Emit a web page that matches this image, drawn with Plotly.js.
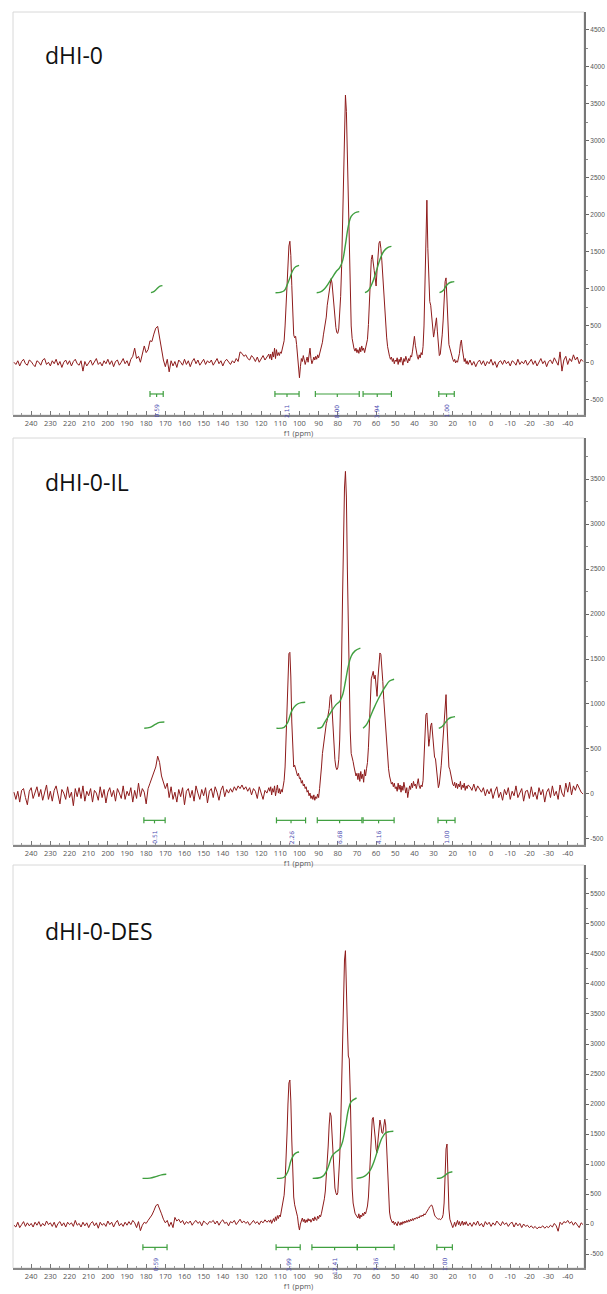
<!DOCTYPE html>
<html><head><meta charset="utf-8">
<script src="https://cdn.plot.ly/plotly-3.0.1.min.js"></script>
<style>html,body{margin:0;padding:0;background:#fff}#chart{width:607px;height:1294px}</style>
</head><body><div id="chart"></div>
<script>
// ---------- DATA ----------
// spectra are stored as segments: first ppm of each segment and its sampling step
const segStart = [249, 186, 115.5, 99.5, 85.5, 69.5, 49.5, 11];
const segStep  = [1, 1, 0.5, 0.5, 0.5, 0.5, 0.5, 1];

const sampleNames = ["dHI-0", "dHI-0-IL", "dHI-0-DES"];

// ---- dHI-0 intensities ----
const dhi0_s1 = [10,-20,30,-40,20,50,-10,-30,40,20, -20,-50,30,10,-30,40,60,-20,10,-40, 30,-10,50,-30,20,-60,10,40,-20,30, -40,20,50,-10,-30,30,-110,20,-40,10, 40,-30,20,60,-20,10,-40,30,-10,50, -20,30,-50,20,40,-30,10,60,-10,30, -40,50,90];
const dhi0_s2 = [200,60,90,10,110,230,140,180,300,290, 390,470,495,350,180,40,-50,50,-120,30, -40,20,-60,40,10,-30,50,-20,30,-50, 20,60,-10,40,-30,10,50,-20,30,0, 40,-30,20,60,-10,30,-40,20,50,10, -20,30,0,60,20,150,130,90,110,60, 40,100,70,20,80,10,60,100,40,90, 120];
const dhi0_s3 = [60,120,40,150,80,200,60,180,100,140, 100,150,130,200,250,300,500,750,1050,1350, 1580,1645,1450,1050,600,380,340,360,250,130, 0,-200];
const dhi0_s4 = [-50,60,20,100,40,-20,30,80,10,150, 200,60,-10,30,80,40,90,50,110,70, 120,150,200,280,380,450,530,620];
const dhi0_s5 = [780,870,950,1050,1140,1080,900,750,600,480, 410,400,460,620,900,1300,1900,2600,3250,3620, 3400,2800,2000,1300,800,500,330,250,190,160, 200,140];
const dhi0_s6 = [180,130,210,150,230,170,200,140,220,250, 320,520,880,1200,1400,1460,1380,1250,1150,1040, 1250,1500,1620,1645,1550,1380,1150,950,720,520, 350,220,130,90,50,80,20,60,-10,40];
const dhi0_s7 = [20,70,-20,50,10,80,30,-30,60,20, 90,40,0,60,30,100,80,160,310,360, 240,120,90,50,110,70,140,110,220,500, 1150,2000,2200,1550,1000,830,780,600,420,350, 430,560,610,420,180,100,120,230,380,580, 850,1100,1150,850,450,250,200,140,90,50, 20,50,0,30,10,60,130,260,310,190, 90,20,60,-10,30,-20];
const dhi0_s8 = [40,-30,20,-50,10,40,-20,30,-40,20, -10,50,-30,20,-60,10,30,-20,40,-10, 20,-40,30,10,-30,50,-20,20,-10,40, -30,10,50,-20,30,-40,20,60,-10,30, -50,20,40,-10,70,20,-30,150,-110,40, 90,-20,60,20,110,40,80,-10,50,20];

// ---- dHI-0-IL intensities ----
const il_s1 = [20,-60,30,-90,40,60,-40,-120,30,70, -50,10,80,-30,50,-70,20,100,-60,30, -80,40,90,-20,-110,50,10,-60,80,-40, 20,-130,60,-30,70,-50,90,-80,30,-20, 60,-90,40,10,-70,80,-40,50,-100,20, 70,-30,40,-80,60,10,-50,90,-60,30, -20,70,-90];
const il_s2 = [40,-50,120,-30,60,20,-110,60,120,180, 260,300,420,350,200,140,60,120,-40,80, -60,20,-90,50,-30,70,-120,30,60,-40, 40,-80,90,10,-60,50,-20,70,-100,30, 60,-40,80,20,-70,40,90,-30,50,10, 60,20,80,40,90,60,100,50,80,30, 70,-10,60,30,-50,80,20,-60,40,10, 70];
const il_s3 = [30,80,-10,60,20,90,-20,40,100,10, 60,0,50,20,80,150,300,600,1000,1400, 1560,1574,1300,800,450,300,320,280,240,200, 230,170];
const il_s4 = [180,120,150,90,110,60,80,20,40,-20, 10,-50,-20,-60,-10,-70,-30,-50,0,-40, 60,150,300,450,550,620,700,780];
const il_s5 = [820,880,950,1080,1104,950,700,500,380,300, 270,290,380,600,950,1500,2200,2900,3400,3585, 3300,2500,1700,1100,700,450,380,360,300,250, 200,230];
const il_s6 = [160,230,140,250,170,220,130,270,200,280, 350,520,800,1100,1280,1320,1363,1280,1320,1200, 1085,1300,1480,1567,1550,1420,1250,1050,900,750, 550,380,280,200,150,110,130,80,120,60];
const il_s7 = [80,30,120,50,100,20,90,40,130,60, 10,70,-40,30,90,50,120,70,140,90, 110,60,150,170,90,60,100,80,150,350, 700,880,900,720,530,620,760,789,620,460, 410,390,300,150,70,110,200,320,480,650, 880,1060,1104,780,420,300,270,200,150,110, 90,130,70,120,60,110,80,140,50,100, 70,120,40,90,60,100];
const il_s8 = [80,40,110,30,90,60,20,70,-20,50, 0,60,-50,30,80,-40,20,-70,50,-10, 70,-60,30,-20,90,-40,10,60,-80,30, 40,-50,80,-30,20,-60,70,-10,50,-90, 20,60,-40,90,-20,30,-60,100,10,-30, 120,20,130,-10,90,40,110,60,20,0];

// ---- dHI-0-DES intensities ----
const des_s1 = [-20,-50,30,-60,-10,40,-40,20,-30,10, -50,30,-20,40,-40,10,-30,50,-10,20, -40,30,-60,10,40,-30,20,-50,30,-10, 20,-40,60,-20,10,-50,30,-30,20,-60, 10,40,-30,20,-70,30,-20,10,-40,50, -10,30,-50,20,60,-30,10,-40,30,-20, 40,-10,60];
const des_s2 = [20,-60,40,-110,-20,30,10,60,100,150, 220,300,333,260,170,80,20,60,-40,30, -60,110,50,80,20,60,-10,40,10,50, -20,30,60,10,40,-30,50,20,-10,40, 30,60,0,50,-20,40,70,10,30,-30, 40,20,60,-10,30,80,20,50,10,40, -20,30,60,10,40,-10,50,20,70,30, 60];
const des_s3 = [30,70,10,60,90,40,120,60,140,90, 150,120,200,260,350,480,700,1000,1500,2000, 2350,2400,2050,1400,800,450,320,260,220,120, -20,-100];
const des_s4 = [0,60,100,40,80,20,70,30,90,50, 80,30,60,100,50,120,80,60,130,90, 150,120,180,250,330,420,550,750];
const des_s5 = [1000,1300,1650,1855,1800,1500,1100,800,600,520, 483,520,750,1100,1600,2300,3100,3900,4400,4555, 4100,3300,2800,2750,2200,1200,600,350,250,180, 150,120];
const des_s6 = [100,170,90,150,120,180,140,200,170,230, 300,450,750,1150,1550,1750,1777,1650,1450,1250, 1190,1400,1650,1733,1650,1520,1511,1650,1744,1650, 1300,800,400,200,100,60,20,50,-10,30];
const des_s7 = [10,-30,40,0,-20,30,-10,40,10,50, 20,60,30,70,40,80,50,90,60,100, 80,110,90,120,100,140,120,150,130,170, 150,180,200,230,260,290,310,317,280,200, 150,120,100,90,80,90,70,80,100,160, 350,800,1250,1333,700,250,80,20,-40,-60, -20,30,-40,20,60,-10,40,-30,10,50, -20,30,-10,40,0,-30];
const des_s8 = [20,-40,30,-20,50,-30,10,-50,40,-10, 30,-40,20,-20,50,0,-30,40,-10,20, -40,10,30,-50,20,-30,10,-60,0,-40, -20,-60,-30,-70,-40,-80,-50,-60,-30,-70, -40,-60,-20,-50,10,-30,-120,30,-10,40, 20,60,10,40,-20,30,-10,-60,20,-10];

// ---- integral curves (ppm, height) ----
const dhi0_intPpm = [[177.5,176,174.5,173,171.5],[112.5,110,108,106.5,105,103.5,102,100.2],[91,89,87,85,83,81,79,77.5,76,74.5,73,71,68.8],[65.8,64,62,60,58,56,54,52],[26.9,25,23.5,22,20.5,19.2]];
const dhi0_intVal = [[950,965,1000,1035,1045],[950,955,975,1050,1150,1250,1300,1320],[950,960,1000,1070,1150,1230,1290,1380,1600,1850,1980,2030,2045],[950,980,1080,1230,1400,1510,1560,1575],[950,980,1040,1080,1095,1100]];
const il_intPpm = [[181,178,175.5,173,170.5],[112,108,106,104.5,103,101,99,97],[90.7,88.5,87,85,83,81,79,77.5,76,74.5,73,71,68.2],[66.8,65,63,61,59,57,55,53,50.6],[27.3,25.5,24,22.5,21,18.8]];
const il_intVal = [[730,740,770,795,800],[730,740,800,900,960,1000,1015,1020],[730,740,790,860,930,990,1030,1100,1250,1420,1530,1590,1620],[730,770,860,960,1050,1130,1200,1255,1275],[730,750,790,830,850,860]];
const des_intPpm = [[181.9,178,175,172,169.5],[111.8,108,106,104.5,103,101.5,100.2],[93.1,89,87,85,83,81,79,77.5,76,74.5,73,70.2],[70.2,67,65,63,61,59,57,55,53,51],[28.3,26,24,22.5,21,20.2]];
const des_intVal = [[760,765,790,820,830],[760,780,880,1050,1150,1190,1200],[760,775,820,950,1130,1200,1250,1370,1620,1900,2040,2100],[760,780,820,900,1050,1250,1430,1520,1540,1545],[760,770,810,850,865,870]];

// ---- integration ranges and values ----
const dhi0_ranges = [[178,171.1],[112.8,100.2],[91.7,68.8],[66.8,52],[27.3,19.2]];
const dhi0_labels = ["0.59","2.11","8.00","3.94","1.00"];
const il_ranges = [[181.2,170.1],[112,96.8],[90.7,67.4],[66.8,50.6],[27.7,18.8]];
const il_labels = ["0.51","2.26","6.68","4.16","1.00"];
const des_ranges = [[181.7,169.1],[112.2,99.6],[93.5,69.8],[69.8,50.6],[28.3,20.2]];
const des_labels = ["0.59","3.99","12.41","7.36","1.00"];

// ---- tick labels ----
const xTickVals = [240,230,220,210,200,190,180,170,160,150,140,130,120,110,100,90,80,70,60,50,40,30,20,10,0,-10,-20,-30,-40];
const xTickText = ["240","230","220","210","200","190","180","170","160","150","140","130","120","110","100","90","80","70","60","50","40","30","20","10","0","-10","-20","-30","-40"];
const yTickVals1 = [-500,0,500,1000,1500,2000,2500,3000,3500,4000,4500];
const yTickVals2 = [-500,0,500,1000,1500,2000,2500,3000,3500];
const yTickVals3 = [-500,0,500,1000,1500,2000,2500,3000,3500,4000,4500,5000,5500];

// ---------- LAYOUT / BUILD ----------
const W = 607, H = 1294;
const xL = 13, xR = 584;
const panels = [
  {segs:[dhi0_s1,dhi0_s2,dhi0_s3,dhi0_s4,dhi0_s5,dhi0_s6,dhi0_s7,dhi0_s8], iP:dhi0_intPpm, iV:dhi0_intVal, rg:dhi0_ranges, lb:dhi0_labels, yt:yTickVals1,
   top:12, bot:415, yr:[-703,4743], brY:-419, titleY:55},
  {segs:[il_s1,il_s2,il_s3,il_s4,il_s5,il_s6,il_s7,il_s8], iP:il_intPpm, iV:il_intVal, rg:il_ranges, lb:il_labels, yt:yTickVals2,
   top:438, bot:845, yr:[-567,3956], brY:-293, titleY:482},
  {segs:[des_s1,des_s2,des_s3,des_s4,des_s5,des_s6,des_s7,des_s8], iP:des_intPpm, iV:des_intVal, rg:des_ranges, lb:des_labels, yt:yTickVals3,
   top:865, bot:1268, yr:[-733,5983], brY:-389, titleY:931}
];

const traces = [];
const layout = {
  width: W, height: H, margin:{l:0,r:0,t:0,b:0},
  paper_bgcolor:'#fff', plot_bgcolor:'#fff', showlegend:false,
  font:{family:'"Open Sans", "DejaVu Sans", sans-serif', color:'#555'},
  shapes:[], annotations:[]
};
const specColor = '#8e1b1b', intColor = '#3f9f3f', lblColor = '#4b4bb0';

panels.forEach((p, k) => {
  const sfx = k === 0 ? '' : String(k+1);
  const xa = 'x'+sfx, ya = 'y'+sfx;
  // spectrum
  const xs = [], ys = [];
  p.segs.forEach((seg, s) => {
    seg.forEach((v, i) => { xs.push(segStart[s] - i*segStep[s]); ys.push(v); });
  });
  traces.push({x:xs, y:ys, xaxis:xa, yaxis:ya, type:'scatter', mode:'lines',
    line:{color:specColor, width:1}, hoverinfo:'skip'});
  // integral curves
  p.iP.forEach((pp, j) => {
    traces.push({x:pp, y:p.iV[j], xaxis:xa, yaxis:ya, type:'scatter', mode:'lines',
      line:{color:intColor, width:1.4, shape:'spline', smoothing:1}, hoverinfo:'skip'});
  });
  // integration brackets
  const unitsPerPx = (p.yr[1]-p.yr[0]) / (p.bot - p.top);
  const h = 3*unitsPerPx, hc = 3*unitsPerPx;
  const bx = [], by = [];
  p.rg.forEach((r, j) => {
    const a = r[0], b = r[1], m = (a+b)/2;
    bx.push(a,a,null,a,b,null,b,b,null,m,m,null);
    by.push(p.brY+h,p.brY-h,null,p.brY,p.brY,null,p.brY+h,p.brY-h,null,p.brY,p.brY-hc,null);
    const len = p.lb[j].length;
    layout.annotations.push({x:m, y:p.brY, xref:xa, yref:ya, text:p.lb[j], showarrow:false,
      textangle:-90, yanchor:'middle', xanchor:'center', yshift:-(9 + len*2),
      font:{size:6, color:lblColor, family:'"DejaVu Sans", sans-serif'}});
  });
  traces.push({x:bx, y:by, xaxis:xa, yaxis:ya, type:'scatter', mode:'lines',
    line:{color:intColor, width:1.2}, hoverinfo:'skip', connectgaps:false});

  const d0 = 1 - p.bot/H, d1 = 1 - p.top/H;
  layout['xaxis'+sfx] = {
    domain:[xL/W, xR/W], anchor:ya, range:[249.5,-48.5], autorange:false,
    tickmode:'array', tickvals:xTickVals, ticktext:xTickText,
    ticks:'inside', ticklen:4, tickcolor:'#777', tickwidth:1,
    minor:{dtick:5, ticks:'inside', ticklen:2, tickcolor:'#999', showgrid:false},
    showline:true, linecolor:'#888', linewidth:1.5, showgrid:false, zeroline:false,
    tickfont:{size:7.5, color:'#555'},
    title:{text:'f1 (ppm)', font:{size:7.5, color:'#555'}, standoff:0}
  };
  layout['yaxis'+sfx] = {
    domain:[d0, d1], anchor:xa, side:'right', range:p.yr, autorange:false,
    tickmode:'array', tickvals:p.yt, ticktext:p.yt.map(String),
    ticks:'outside', ticklen:3, tickcolor:'#666', tickwidth:1,
    minor:{dtick:250, ticks:'outside', ticklen:2, tickcolor:'#888', showgrid:false},
    showline:true, linecolor:'#777', linewidth:2, showgrid:false, zeroline:false,
    tickfont:{size:6.5, color:'#555', family:'"Liberation Sans", Arial, sans-serif'}
  };
  // light frame around plot area
  layout.shapes.push({type:'rect', xref:'paper', yref:'paper', x0:xL/W, x1:xR/W, y0:d0, y1:d1,
    line:{color:'#d8d8d8', width:1}, layer:'below'});
  // sample title
  layout.annotations.push({x:43/W, y:1 - p.titleY/H, xref:'paper', yref:'paper', text:sampleNames[k],
    showarrow:false, xanchor:'left', yanchor:'middle',
    font:{size:23, color:'#111', family:'"Open Sans", "Noto Sans", sans-serif'}});
});

Plotly.newPlot('chart', traces, layout, {staticPlot:true, displayModeBar:false});
</script>
</body></html>
